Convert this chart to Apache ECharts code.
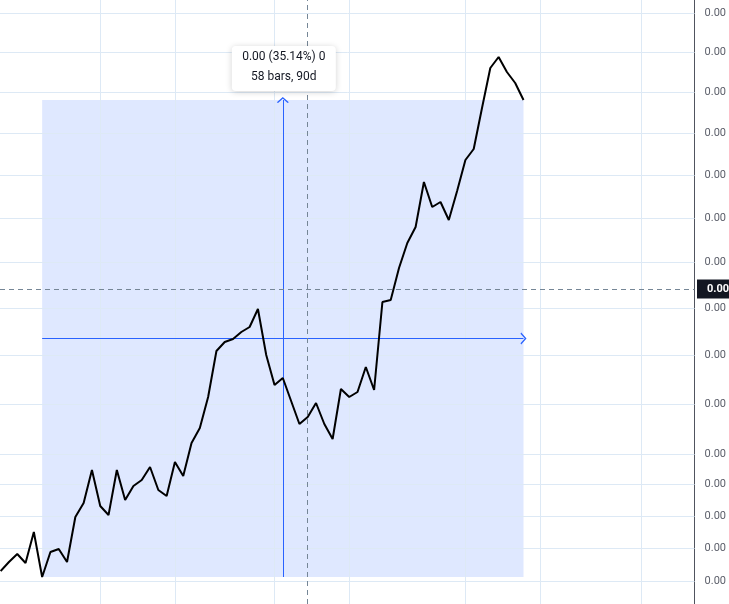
<!DOCTYPE html>
<html><head><meta charset="utf-8">
<script src="https://cdn.jsdelivr.net/npm/echarts@6/dist/echarts.min.js"></script>
<style>html,body{margin:0;padding:0;background:#fff}#c{width:729px;height:604px}</style>
</head><body><div id="c"></div>
<script>
// Close values per bar (index 0..63)
const closeValues = [
  3.3, 4.2, 5.0, 4.1, 7.2, 2.7, 5.2, 5.5, 4.2, 8.7,
  10.1, 13.4, 9.8, 8.9, 13.4, 10.4, 11.8, 12.4, 13.7, 11.4,
  10.8, 14.2, 12.8, 16.1, 17.6, 20.7, 25.3, 26.2, 26.5, 27.2,
  27.7, 29.5, 24.9, 21.9, 22.6, 20.3, 18.0, 18.7, 20.1, 18.0,
  16.5, 21.5, 20.7, 21.2, 23.7, 21.4, 30.2, 30.4, 33.6, 36.1,
  37.7, 42.2, 39.7, 40.2, 38.4, 41.3, 44.4, 45.5, 49.6, 53.6,
  54.7, 53.2, 52.1, 50.4
];
// Price-scale tick positions and labels
const yTickValues = [59.07, 55.17, 51.17, 47.07, 42.9, 38.57, 34.17, 29.57, 24.83, 19.97, 15.0, 11.97, 8.77, 5.53, 2.23];
const yTickLabels = ['0.00','0.00','0.00','0.00','0.00','0.00','0.00','0.00','0.00','0.00','0.00','0.00','0.00','0.00','0.00'];
// Time-scale vertical grid lines (bar index)
const xGridBars = [12, 21, 33, 42, 56, 65, 77.2];
// Measure tool
const measureFrom = 5, measureTo = 63;
const measureLine1 = '0.00 (35.14%) 0';
const measureLine2 = '58 bars, 90d';
// Crosshair
const crossBar = 37, crossValue = 31.5;
const crossLabel = '0.00';

const FONT = 'Roboto, "Noto Sans", sans-serif';
const chart = echarts.init(document.getElementById('c'), null, {renderer: 'canvas'});
const lineData = closeValues.map((v, i) => [i, v]);
const vFrom = closeValues[measureFrom], vTo = closeValues[measureTo];
const lo = Math.min(vFrom, vTo), hi = Math.max(vFrom, vTo);
const mid = (lo + hi) / 2;
const midBar = (measureFrom + measureTo) / 2;
const chevron = 'path://M0,6 L6,0 L12,6 L10.8,6.8 L6,2 L1.2,6.8 Z';

chart.setOption({
  animation: false,
  backgroundColor: '#ffffff',
  grid: {left: 0, right: 32, top: 0, bottom: 0},
  xAxis: {type: 'value', min: -0.078, max: 83.61, show: false},
  yAxis: {
    type: 'value', position: 'right', min: 0, max: 60.4,
    splitLine: {show: false},
    axisLine: {show: true, onZero: false, lineStyle: {color: '#50535e', width: 1}},
    axisTick: {show: false},
    axisLabel: {
      customValues: yTickValues,
      color: '#5d606b', fontSize: 11, fontFamily: FONT, margin: 10,
      formatter: (val) => { const k = yTickValues.indexOf(val); return k >= 0 ? yTickLabels[k] : '0.00'; }
    }
  },
  series: [
    {
      name: 'grid', type: 'line', data: lineData, symbol: 'none', silent: true, z: 1,
      lineStyle: {opacity: 0},
      markLine: {
        silent: true, symbol: 'none', label: {show: false},
        lineStyle: {color: '#dde9f5', width: 1, type: 'solid'},
        data: yTickValues.map(v => ({yAxis: v})).concat(xGridBars.map(b => ({xAxis: b})))
      }
    },
    {
      name: 'measure', type: 'line', data: lineData, symbol: 'none', silent: true, z: 2,
      lineStyle: {opacity: 0},
      markArea: {
        silent: true,
        itemStyle: {color: 'rgba(41,98,255,0.15)'},
        data: [[{coord: [measureFrom, lo]}, {coord: [measureTo, hi]}]]
      },
      markLine: {
        silent: true, symbol: ['none', chevron], symbolSize: [12, 6],
        label: {show: false},
        lineStyle: {color: '#2962ff', width: 1, type: 'solid'},
        data: [
          [{coord: [measureFrom, mid]}, {coord: [measureTo, mid]}],
          [{coord: [midBar, lo]}, {coord: [midBar, hi]}]
        ]
      }
    },
    {
      name: 'crosshair', type: 'line', data: lineData, symbol: 'none', silent: true, z: 3,
      lineStyle: {opacity: 0},
      markLine: {
        silent: true, symbol: 'none', label: {show: false},
        lineStyle: {color: '#758696', width: 1, type: [5, 4]},
        data: [{xAxis: crossBar}, {yAxis: crossValue}]
      }
    },
    {
      name: 'price', type: 'line', data: lineData, symbol: 'none', z: 5,
      lineStyle: {color: '#000000', width: 2}
    }
  ]
});

const topPt = chart.convertToPixel({seriesIndex: 3}, [midBar, hi]);
const crossY = chart.convertToPixel({seriesIndex: 3}, [crossBar, crossValue])[1];
const bw = 104, bh = 45;
const bx = topPt[0] - bw / 2 + 1, by = topPt[1] - 9 - bh;
chart.setOption({
  graphic: [
    {type: 'rect', z: 100, shape: {x: bx, y: by, width: bw, height: bh, r: 4},
     style: {fill: '#ffffff', shadowBlur: 6, shadowColor: 'rgba(0,0,0,0.18)', shadowOffsetY: 1}},
    {type: 'text', z: 101, x: bx + bw / 2, y: by + 11, style: {text: measureLine1, fill: '#131722', font: '12px ' + FONT, textAlign: 'center', textVerticalAlign: 'middle'}},
    {type: 'text', z: 101, x: bx + bw / 2, y: by + 31, style: {text: measureLine2, fill: '#131722', font: '12px ' + FONT, textAlign: 'center', textVerticalAlign: 'middle'}},
    {type: 'rect', z: 100, shape: {x: 697, y: crossY - 9.5, width: 32, height: 19}, style: {fill: '#131722'}},
    {type: 'text', z: 101, x: 707, y: crossY, style: {text: crossLabel, fill: '#ffffff', font: 'bold 11px ' + FONT, textVerticalAlign: 'middle'}}
  ]
});
</script>
</body></html>
